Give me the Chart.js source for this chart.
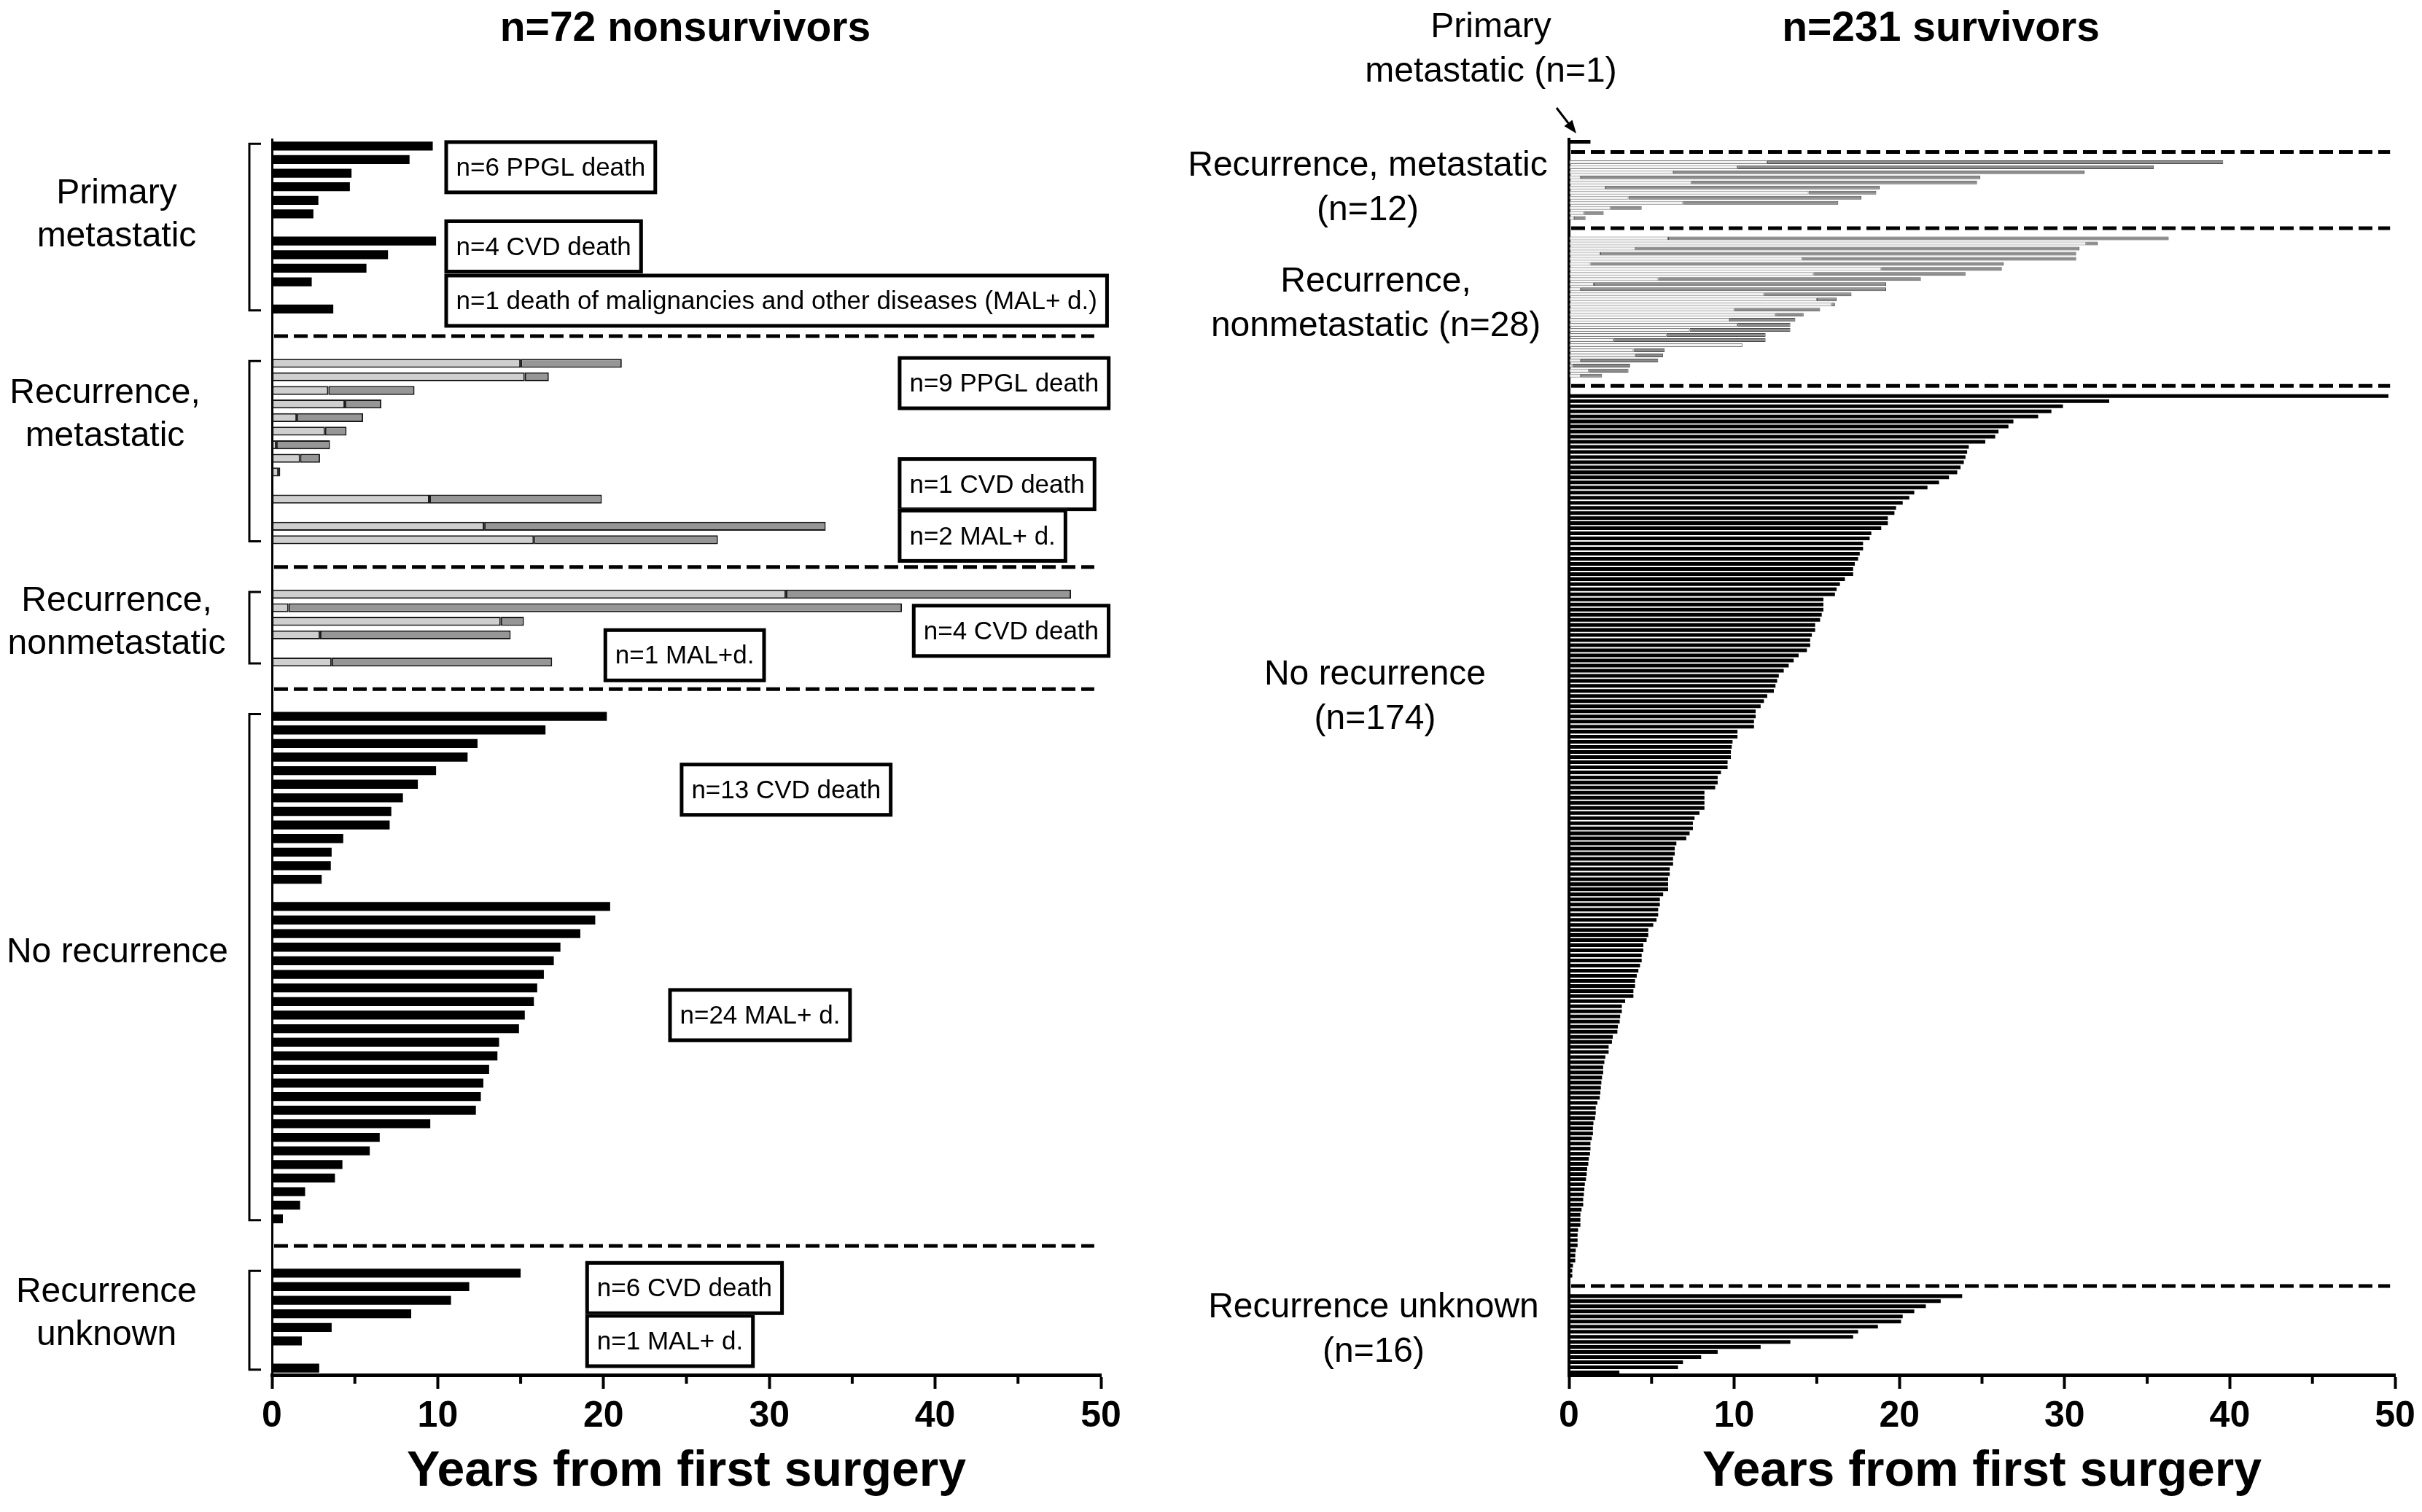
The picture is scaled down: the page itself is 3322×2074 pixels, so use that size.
<!DOCTYPE html>
<html>
<head>
<meta charset="UTF-8">
<style>
  html, body { margin: 0; padding: 0; background: #fff; }
  #left { position: absolute; left: 0; top: 0; }
  #right { position: absolute; left: 1600px; top: 0; }
</style>
</head>
<body>
<canvas id="left" width="1600" height="2074"></canvas>
<canvas id="right" width="1722" height="2074"></canvas>

<script src="https://cdn.jsdelivr.net/npm/chart.js"></script>

<script>
    const FONT = '"Liberation Sans", Arial, sans-serif';

    // ---- nonsurvivors (years from first surgery) ----
    // recurrent patients: time to recurrence (rec) and time to end of follow-up (end)
    const nsPrimPPGL = [9.7, 8.3, 4.8, 4.7, 2.8, 2.5];
    const nsPrimCVD = [9.9, 7.0, 5.7, 2.4];
    const nsPrimMAL = [3.7];
    const nsRecMetPPGLrec = [15.0, 15.25, 3.4, 4.4, 1.5, 3.2, 0.26, 1.7, 0.4];
    const nsRecMetPPGLend = [21.1, 16.7, 8.6, 6.6, 5.5, 4.5, 3.5, 2.9, 0.5];
    const nsRecMetCVDrec = [9.5];
    const nsRecMetCVDend = [19.9];
    const nsRecMetMALrec = [12.8, 15.8];
    const nsRecMetMALend = [33.4, 26.9];
    const nsRecNonCVDrec = [31.0, 1.0, 13.8, 2.9];
    const nsRecNonCVDend = [48.2, 38.0, 15.2, 14.4];
    const nsRecNonMALrec = [3.6];
    const nsRecNonMALend = [16.9];
    const nsNoRecCVD = [20.2, 16.5, 12.4, 11.8, 9.9, 8.8, 7.9, 7.2, 7.1, 4.3, 3.6, 3.55, 3.0];
    const nsNoRecMAL = [20.4, 19.5, 18.6, 17.4, 17.0, 16.4, 16.0, 15.8, 15.25, 14.9, 13.7, 13.6,
                        13.1, 12.75, 12.6, 12.3, 9.55, 6.5, 5.9, 4.25, 3.8, 2.0, 1.7, 0.66];
    const nsUnkCVD = [15.0, 11.9, 10.8, 8.4, 3.6, 1.8];
    const nsUnkMAL = [2.85];

    // ---- survivors ----
    const svPrim = [1.3];
    const svRecMetRec = [12.0, 10.2, 6.3, 0.7, 7.4, 2.2, 14.5, 3.6, 6.9, 2.5, 0.9, 0.3];
    const svRecMetEnd = [39.6, 35.4, 31.2, 24.9, 24.7, 18.8, 18.6, 17.7, 16.3, 4.4, 2.1, 1.0];
    const svRecNonRec = [6.0, 31.3, 4.0, 1.9, 14.1, 1.3, 18.9, 14.8, 5.4, 1.5, 0.7, 11.8, 15.0, 15.9,
                         10.0, 12.5, 9.7, 10.2, 7.3, 5.9, 2.7, 10.5, 3.9, 4.0, 0.7, 0.2, 1.2, 0.7];
    const svRecNonEnd = [36.3, 32.0, 30.9, 30.7, 30.7, 26.3, 26.2, 24.0, 21.3, 19.2, 19.2, 17.1, 16.2, 16.1,
                         15.2, 14.2, 13.7, 13.4, 13.4, 11.9, 11.9, 10.5, 5.8, 5.7, 5.4, 3.7, 3.6, 2.0];
    const svNoRec = [49.6, 32.7, 29.9, 29.2, 28.4, 26.9, 26.6, 26.0, 25.8, 25.2, 24.2, 24.1, 24.0, 23.9,
        23.7, 23.5, 23.0, 22.4, 21.7, 20.9, 20.6, 20.2, 19.8, 19.7, 19.3, 19.3, 18.9, 18.3, 18.2, 17.8,
        17.8, 17.6, 17.5, 17.3, 17.2, 17.2, 16.7, 16.4, 16.2, 16.1, 15.4, 15.4, 15.4, 15.3, 15.2, 14.9,
        14.9, 14.7, 14.6, 14.6, 14.4, 13.9, 13.6, 13.3, 13.0, 12.7, 12.6, 12.5, 12.4, 12.0, 11.8, 11.6,
        11.3, 11.3, 11.2, 11.2, 10.2, 10.2, 9.9,
        9.85, 9.8, 9.8, 9.6, 9.6, 9.2, 9.0, 9.0, 8.85, 8.2, 8.2, 8.2, 8.2, 7.9, 7.6, 7.5, 7.5, 7.3, 7.1,
        6.5, 6.4, 6.4, 6.3, 6.3, 6.1, 6.1, 6.0, 6.0, 6.0, 5.7, 5.5, 5.5, 5.4, 5.4, 5.3, 5.1, 4.8, 4.8,
        4.7, 4.5, 4.5, 4.4, 4.4, 4.3, 4.2, 4.1, 4.0, 4.0, 3.9, 3.9, 3.4, 3.2, 3.2, 3.1,
        3.07, 2.96, 2.93, 2.65, 2.6, 2.4, 2.4, 2.2, 2.14, 2.07, 2.07, 2.0, 1.96, 1.93, 1.9, 1.86, 1.72,
        1.62, 1.62, 1.58, 1.48, 1.45, 1.45, 1.38, 1.3, 1.3, 1.27, 1.2, 1.17, 1.1, 1.07, 1.03, 0.96, 0.93,
        0.9, 0.86, 0.86, 0.76, 0.69, 0.69, 0.69, 0.55, 0.52, 0.52, 0.52, 0.41, 0.38, 0.38, 0.24, 0.2, 0.2];
    const svUnknown = [23.8, 22.5, 21.6, 20.9, 20.2, 20.1, 18.7, 17.5, 17.2, 13.4, 11.6, 9.0, 8.0, 6.9, 6.6, 3.05];

    const xTicks = [0, 10, 20, 30, 40, 50];
    const xMinor = [5, 15, 25, 35, 45];

    function solid(arr) { return arr.map(v => ({end: v})); }
    function twoTone(rec, end) { return rec.map((r, i) => ({rec: r, end: end[i]})); }

    // groups -> rows; blank row between sub-groups, blank/dash/blank between groups
    function buildRows(groups) {
        const rows = [], dashRows = [], spans = [];
        groups.forEach((g, gi) => {
            if (gi > 0) { rows.push(null); dashRows.push(rows.length); rows.push(null); rows.push(null); }
            const start = rows.length;
            g.forEach((part, pi) => {
                if (pi > 0) rows.push(null);
                part.forEach(b => rows.push(b));
            });
            spans.push([start, rows.length - 1]);
        });
        return {rows, dashRows, spans};
    }

    const deco = {
        id: 'deco',
        afterDraw(chart, args, o) {
            const {ctx, chartArea: ca, scales: {x, y}} = chart;
            ctx.save();
            ctx.fillStyle = '#000';
            ctx.strokeStyle = '#000';

            // panel title
            ctx.font = 'bold 57px ' + FONT;
            ctx.textAlign = 'center';
            ctx.textBaseline = 'middle';
            ctx.fillText(o.title, o.titleX, 40);

            // minor ticks
            ctx.lineWidth = 4;
            xMinor.forEach(v => {
                const px = x.getPixelForValue(v);
                ctx.beginPath(); ctx.moveTo(px, ca.bottom); ctx.lineTo(px, ca.bottom + 12); ctx.stroke();
            });

            // dashed separators
            ctx.lineWidth = 5;
            ctx.setLineDash([19, 8]);
            o.dashRows.forEach(r => {
                const py = y.getPixelForValue(r);
                ctx.beginPath(); ctx.moveTo(ca.left + 3, py); ctx.lineTo(x.getPixelForValue(o.dashEnd), py); ctx.stroke();
            });
            ctx.setLineDash([]);

            // brackets
            if (o.brackets) {
                ctx.lineWidth = 3;
                o.spans.forEach(([a, b]) => {
                    const y1 = y.getPixelForValue(a) - 3, y2 = y.getPixelForValue(b) + 2;
                    const bx = ca.left - 31, ex = ca.left - 15;
                    ctx.beginPath();
                    ctx.moveTo(ex, y1); ctx.lineTo(bx, y1); ctx.lineTo(bx, y2); ctx.lineTo(ex, y2);
                    ctx.stroke();
                });
            }

            // group labels
            ctx.font = '48px ' + FONT;
            o.labels.forEach(l => {
                const cy = y.getPixelForValue(l.row);
                const n = l.lines.length;
                l.lines.forEach((t, i) => {
                    ctx.fillText(t, ca.left + l.dx, cy + (i - (n - 1) / 2) * o.lineH);
                });
            });

            // boxed notes
            ctx.font = '35px ' + FONT;
            (o.boxes || []).forEach(b => {
                const tw = ctx.measureText(b.text).width;
                const bx = x.getPixelForValue(b.x), cy = y.getPixelForValue(b.row);
                const w = tw + 32, h = 74;
                ctx.fillStyle = '#fff';
                ctx.fillRect(bx, cy - h / 2, w, h);
                ctx.lineWidth = 5;
                ctx.strokeRect(bx + 2.5, cy - h / 2 + 2.5, w - 5, h - 5);
                ctx.fillStyle = '#000';
                ctx.textAlign = 'left';
                ctx.fillText(b.text, bx + 16, cy + 2);
            });

            // arrow to the single primary metastatic survivor
            if (o.arrow) {
                const x1 = ca.left - 17, y1 = ca.top - 43, x2 = ca.left + 10, y2 = ca.top - 8;
                const ang = Math.atan2(y2 - y1, x2 - x1);
                ctx.lineWidth = 3;
                ctx.beginPath(); ctx.moveTo(x1, y1); ctx.lineTo(x2 - 10 * Math.cos(ang), y2 - 10 * Math.sin(ang)); ctx.stroke();
                ctx.beginPath();
                ctx.moveTo(x2, y2);
                ctx.lineTo(x2 - 18 * Math.cos(ang) + 7 * Math.sin(ang), y2 - 18 * Math.sin(ang) - 7 * Math.cos(ang));
                ctx.lineTo(x2 - 18 * Math.cos(ang) - 7 * Math.sin(ang), y2 - 18 * Math.sin(ang) + 7 * Math.cos(ang));
                ctx.closePath(); ctx.fill();
            }
            ctx.restore();
        }
    };

    function makeChart(id, layout, style, deco_opts, pad) {
        const rows = layout.rows;
        const black = rows.map(b => b && b.rec == null ? b.end : null);
        const light = rows.map(b => b && b.rec != null ? b.rec : null);
        const dark = rows.map(b => b && b.rec != null ? +(b.end - b.rec).toFixed(2) : null);
        new Chart(document.getElementById(id), {
            type: 'bar',
            data: {
                labels: rows.map((_, i) => String(i)),
                datasets: [
                    {data: black, backgroundColor: '#000', borderWidth: 0},
                    {data: light, backgroundColor: style.light, borderColor: style.lightBorder,
                     borderWidth: style.bw, borderSkipped: false},
                    {data: dark, backgroundColor: style.dark, borderColor: style.darkBorder,
                     borderWidth: style.bw, borderSkipped: false}
                ]
            },
            options: {
                indexAxis: 'y',
                responsive: false,
                animation: false,
                devicePixelRatio: 1,
                datasets: {bar: {barPercentage: style.barPct, categoryPercentage: 1}},
                layout: {padding: pad},
                plugins: {legend: {display: false}, tooltip: {enabled: false}, deco: deco_opts},
                scales: {
                    x: {
                        type: 'linear', min: 0, max: 50, stacked: true,
                        afterBuildTicks: s => { s.ticks = xTicks.map(v => ({value: v})); },
                        ticks: {font: {family: FONT, size: 50, weight: 'bold'}, color: '#000', padding: 8, maxRotation: 0},
                        grid: {display: true, drawOnChartArea: false, drawTicks: true, tickLength: 19,
                               tickWidth: 4, tickColor: '#000'},
                        border: {display: true, width: 5, color: '#000'},
                        title: {display: true, text: 'Years from first surgery', color: '#000',
                                font: {family: FONT, size: 68, weight: 'bold'}, padding: {top: 0, bottom: 14}},
                        afterFit: s => { s.height = 188; }
                    },
                    y: {
                        type: 'category', stacked: true, offset: true,
                        ticks: {display: false},
                        grid: {display: false, drawTicks: false},
                        border: {display: true, width: style.yAxisW, color: '#000'},
                        afterFit: s => { s.width = 0; }
                    }
                }
            },
            plugins: [deco]
        });
    }

    const leftLayout = buildRows([
        [solid(nsPrimPPGL), solid(nsPrimCVD), solid(nsPrimMAL)],
        [twoTone(nsRecMetPPGLrec, nsRecMetPPGLend), twoTone(nsRecMetCVDrec, nsRecMetCVDend),
         twoTone(nsRecMetMALrec, nsRecMetMALend)],
        [twoTone(nsRecNonCVDrec, nsRecNonCVDend), twoTone(nsRecNonMALrec, nsRecNonMALend)],
        [solid(nsNoRecCVD), solid(nsNoRecMAL)],
        [solid(nsUnkCVD), solid(nsUnkMAL)]
    ]);

    const rightLayout = buildRows([
        [solid(svPrim)],
        [twoTone(svRecMetRec, svRecMetEnd)],
        [twoTone(svRecNonRec, svRecNonEnd)],
        [solid(svNoRec)],
        [solid(svUnknown)]
    ]);

    makeChart('left', leftLayout,
        {light: '#cfcfcf', lightBorder: '#1a1a1a', dark: '#969696', darkBorder: '#1a1a1a', bw: 2, barPct: 0.66, yAxisW: 3},
        {
            title: 'n=72 nonsurvivors', titleX: 940, dashEnd: 49.6, lineH: 59,
            dashRows: leftLayout.dashRows, spans: leftLayout.spans, brackets: true,
            labels: [
                {lines: ['Primary', 'metastatic'], row: 5.1, dx: -213},
                {lines: ['Recurrence,', 'metastatic'], row: 19.8, dx: -229},
                {lines: ['Recurrence,', 'nonmetastatic'], row: 35.1, dx: -213},
                {lines: ['No recurrence'], row: 59.4, dx: -212},
                {lines: ['Recurrence', 'unknown'], row: 86.0, dx: -227}
            ],
            boxes: [
                {text: 'n=6 PPGL death', x: 10.4, row: 1.56},
                {text: 'n=4 CVD death', x: 10.4, row: 7.39},
                {text: 'n=1 death of malignancies and other diseases (MAL+ d.)', x: 10.4, row: 11.39},
                {text: 'n=9 PPGL death', x: 37.75, row: 17.46},
                {text: 'n=1 CVD death', x: 37.75, row: 24.9},
                {text: 'n=2 MAL+ d.', x: 37.75, row: 28.7},
                {text: 'n=4 CVD death', x: 38.6, row: 35.7},
                {text: 'n=1 MAL+d.', x: 20.0, row: 37.5},
                {text: 'n=13 CVD death', x: 24.6, row: 47.4},
                {text: 'n=24 MAL+ d.', x: 23.9, row: 64.0},
                {text: 'n=6 CVD death', x: 18.9, row: 84.1},
                {text: 'n=1 MAL+ d.', x: 18.9, row: 88.0}
            ]
        },
        {left: 373, right: 90, top: 191, bottom: 0});

    makeChart('right', rightLayout,
        {light: '#f2f2f2', lightBorder: '#7a7a7a', dark: '#8c8c8c', darkBorder: '#4a4a4a', bw: 1, barPct: 0.72, yAxisW: 4},
        {
            title: 'n=231 survivors', titleX: 1062, dashEnd: 49.7, lineH: 61,
            dashRows: rightLayout.dashRows, spans: rightLayout.spans, brackets: false, arrow: true,
            labels: [
                {lines: ['Primary', 'metastatic (n=1)'], row: -18.1, dx: -107},
                {lines: ['Recurrence, metastatic', '(n=12)'], row: 9.1, dx: -276},
                {lines: ['Recurrence,', 'nonmetastatic (n=28)'], row: 31.9, dx: -265},
                {lines: ['No recurrence', '(n=174)'], row: 109.2, dx: -266},
                {lines: ['Recurrence unknown', '(n=16)'], row: 233.7, dx: -268}
            ]
        },
        {left: 552, right: 37, top: 191, bottom: 0});
</script>
</body>
</html>
